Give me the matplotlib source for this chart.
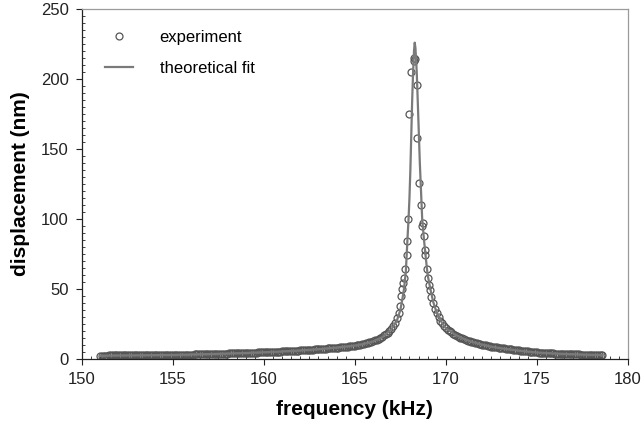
import matplotlib.pyplot as plt
from matplotlib.ticker import MultipleLocator

plt.rcParams['font.family'] = ['Liberation Sans', 'DejaVu Sans']

# experiment: frequency (kHz) and displacement (nm)
exp_freq = [
    151.0, 151.1, 151.2, 151.3, 151.4, 151.5, 151.6, 151.7, 151.8, 151.9,
    152.0, 152.1, 152.2, 152.3, 152.4, 152.5, 152.6, 152.7, 152.8, 152.9,
    153.0, 153.1, 153.2, 153.3, 153.4, 153.5, 153.6, 153.7, 153.8, 153.9,
    154.0, 154.1, 154.2, 154.3, 154.4, 154.5, 154.6, 154.7, 154.8, 154.9,
    155.0, 155.1, 155.2, 155.3, 155.4, 155.5, 155.6, 155.7, 155.8, 155.9,
    156.0, 156.1, 156.2, 156.3, 156.4, 156.5, 156.6, 156.7, 156.8, 156.9,
    157.0, 157.1, 157.2, 157.3, 157.4, 157.5, 157.6, 157.7, 157.8, 157.9,
    158.0, 158.1, 158.2, 158.3, 158.4, 158.5, 158.6, 158.7, 158.8, 158.9,
    159.0, 159.1, 159.2, 159.3, 159.4, 159.5, 159.6, 159.7, 159.8, 159.9,
    160.0, 160.1, 160.2, 160.3, 160.4, 160.5, 160.6, 160.7, 160.8, 160.9,
    161.0, 161.1, 161.2, 161.3, 161.4, 161.5, 161.6, 161.7, 161.8, 161.9,
    162.0, 162.1, 162.2, 162.3, 162.4, 162.5, 162.6, 162.7, 162.8, 162.9,
    163.0, 163.1, 163.2, 163.3, 163.4, 163.5, 163.6, 163.7, 163.8, 163.9,
    164.0, 164.1, 164.2, 164.3, 164.4, 164.5, 164.6, 164.7, 164.8, 164.9,
    165.0, 165.1, 165.2, 165.3, 165.4, 165.5, 165.6, 165.7, 165.8, 165.9,
    166.0, 166.1, 166.2, 166.3, 166.4, 166.5, 166.6, 166.7, 166.8, 166.9,
    167.0, 167.1, 167.2, 167.3, 167.4, 167.5, 167.55, 167.6, 167.65, 167.7,
    167.77, 167.84, 167.88, 167.93, 167.98, 168.06, 168.24, 168.27, 168.30,
    168.39, 168.44, 168.52, 168.61, 168.70, 168.72, 168.79, 168.85, 168.88,
    168.94, 169.0, 169.06, 169.12, 169.21, 169.3, 169.4, 169.5, 169.6, 169.7,
    169.8, 169.9, 170.0, 170.1, 170.2, 170.3, 170.4, 170.5, 170.6, 170.7,
    170.8, 170.9,
    171.0, 171.1, 171.2, 171.3, 171.4, 171.5, 171.6, 171.7, 171.8, 171.9,
    172.0, 172.1, 172.2, 172.3, 172.4, 172.5, 172.6, 172.7, 172.8, 172.9,
    173.0, 173.1, 173.2, 173.3, 173.4, 173.5, 173.6, 173.7, 173.8, 173.9,
    174.0, 174.1, 174.2, 174.3, 174.4, 174.5, 174.6, 174.7, 174.8, 174.9,
    175.0, 175.1, 175.2, 175.3, 175.4, 175.5, 175.6, 175.7, 175.8, 175.9,
    176.0, 176.1, 176.2, 176.3, 176.4, 176.5, 176.6, 176.7, 176.8, 176.9,
    177.0, 177.1, 177.2, 177.3, 177.4, 177.5, 177.6, 177.7, 177.8, 177.9,
    178.0, 178.1, 178.2, 178.3, 178.4, 178.5, 178.6,
]
exp_disp = [
    2.4, 2.4, 2.4, 2.4, 2.4, 2.5, 2.5, 2.5, 2.5, 2.5,
    2.5, 2.5, 2.5, 2.5, 2.6, 2.6, 2.6, 2.6, 2.6, 2.6,
    2.6, 2.7, 2.7, 2.7, 2.7, 2.7, 2.7, 2.7, 2.7, 2.8,
    2.8, 2.8, 2.8, 2.8, 2.8, 2.9, 2.9, 2.9, 2.9, 2.9,
    2.9, 3.0, 3.0, 3.0, 3.0, 3.1, 3.1, 3.1, 3.1, 3.2,
    3.2, 3.2, 3.3, 3.3, 3.3, 3.4, 3.4, 3.4, 3.4, 3.5,
    3.5, 3.6, 3.6, 3.6, 3.7, 3.7, 3.7, 3.8, 3.8, 3.9,
    3.9, 4.0, 4.0, 4.0, 4.1, 4.1, 4.1, 4.2, 4.2, 4.3,
    4.3, 4.4, 4.4, 4.5, 4.5, 4.6, 4.6, 4.7, 4.7, 4.8,
    4.8, 4.9, 4.9, 5.0, 5.0, 5.1, 5.1, 5.2, 5.3, 5.3,
    5.4, 5.5, 5.5, 5.6, 5.7, 5.7, 5.8, 5.9, 5.9, 6.0,
    6.1, 6.2, 6.3, 6.3, 6.4, 6.5, 6.6, 6.7, 6.8, 6.9,
    7.0, 7.1, 7.2, 7.3, 7.4, 7.5, 7.6, 7.7, 7.8, 7.9,
    8.1, 8.2, 8.3, 8.5, 8.6, 8.8, 8.9, 9.0, 9.2, 9.3,
    9.5, 9.7, 10.0, 10.3, 10.6, 10.9, 11.3, 11.6, 12.0, 12.4,
    12.8, 13.3, 13.9, 14.5, 15.2, 16.0, 16.8, 17.8, 18.8, 20.0,
    21.5, 23.5, 26.0, 29.0, 33.0, 38.0, 45.0, 50.0, 54.0, 58.0,
    64.0, 74.0, 84.0, 100.0, 175.0, 205.0, 213.0, 215.0, 214.0,
    196.0, 158.0, 126.0, 110.0, 95.0, 97.0, 88.0, 78.0, 74.0,
    64.0, 58.0, 53.0, 49.0, 44.0, 40.0, 36.0, 33.0, 30.0, 27.5,
    25.5, 23.5, 22.0, 21.0, 20.0, 19.0, 18.0, 17.3, 16.6, 16.0,
    15.3, 14.7,
    14.2, 13.7, 13.2, 12.8, 12.4, 12.0, 11.6, 11.2, 10.9, 10.6,
    10.3, 10.0, 9.7, 9.4, 9.2, 8.9, 8.7, 8.5, 8.3, 8.1,
    7.9, 7.7, 7.5, 7.3, 7.1, 7.0, 6.8, 6.6, 6.5, 6.3,
    6.2, 6.0, 5.9, 5.7, 5.6, 5.4, 5.3, 5.1, 5.0, 4.8,
    4.7, 4.6, 4.5, 4.5, 4.4, 4.3, 4.2, 4.2, 4.1, 4.0,
    3.9, 3.9, 3.8, 3.8, 3.7, 3.7, 3.6, 3.6, 3.5, 3.5,
    3.4, 3.4, 3.3, 3.3, 3.2, 3.2, 3.1, 3.1, 3.1, 3.1,
    3.0, 3.0, 3.0, 3.0, 2.9, 2.9, 2.9,
]

# theoretical fit curve
fit_freq = [151.0, 153.0, 155.0, 157.0, 159.0, 160.0, 161.0, 162.0, 163.0,
            164.0, 165.0, 165.5, 166.0, 166.5, 167.0, 167.3, 167.5, 167.6,
            167.7, 167.8, 167.9, 167.95, 168.0, 168.05, 168.1, 168.15, 168.2,
            168.25, 168.29, 168.33, 168.4, 168.48, 168.57, 168.7, 168.8, 168.9,
            169.0, 169.15, 169.3, 169.5, 169.8, 170.0, 170.5, 171.0, 171.5,
            172.0, 172.5, 173.0, 174.0, 175.0, 176.0, 177.0, 178.0, 178.6]
fit_disp = [2.4, 2.6, 2.9, 3.5, 4.3, 4.8, 5.4, 6.1, 7.0,
            8.2, 9.6, 10.8, 12.5, 15.5, 21.0, 27.0, 35.0, 42.0,
            50.0, 62.0, 88.0, 100.0, 115.0, 135.0, 160.0, 185.0, 205.0,
            220.0, 226.0, 222.0, 205.0, 175.0, 140.0, 100.0, 85.0, 72.0,
            60.0, 50.0, 41.0, 33.0, 25.5, 22.0, 17.5, 14.3, 12.0,
            10.3, 8.8, 7.7, 6.0, 4.6, 3.9, 3.4, 3.0, 2.9]

fig = plt.figure(figsize=(6.44, 4.32), dpi=100)
ax = fig.add_axes([0.127, 0.169, 0.848, 0.81])

ax.plot(exp_freq, exp_disp, 'o', ms=5, mfc='none', mec='#555555', mew=0.9,
        label='experiment')
ax.plot(fit_freq, fit_disp, '-', color='#7a7a7a', lw=1.6, label='theoretical fit')

ax.set_xlim(150, 180)
ax.set_ylim(0, 250)
ax.xaxis.set_major_locator(MultipleLocator(5))
ax.xaxis.set_minor_locator(MultipleLocator(0.5))
ax.yaxis.set_major_locator(MultipleLocator(50))
ax.yaxis.set_minor_locator(MultipleLocator(5))
ax.tick_params(which='major', direction='out', length=4.5, width=0.8,
               labelsize=12, pad=5, colors='#222222')
ax.tick_params(which='minor', direction='in', length=2.5, width=0.6,
               color='#222222')

for side in ['left', 'bottom']:
    ax.spines[side].set_color('#222222')
    ax.spines[side].set_linewidth(0.9)
for side in ['top', 'right']:
    ax.spines[side].set_color('#9a9a9a')
    ax.spines[side].set_linewidth(0.9)

ax.set_xlabel('frequency (kHz)', fontsize=15, fontweight='bold', labelpad=9)
ax.set_ylabel('displacement (nm)', fontsize=15, fontweight='bold', labelpad=8)

ax.legend(loc='upper left', bbox_to_anchor=(0.042, 0.94), frameon=False,
          fontsize=12, handlelength=1.7, handletextpad=1.6, labelspacing=0.95,
          borderpad=0, borderaxespad=0)

fig.savefig('out.png', dpi=100)
